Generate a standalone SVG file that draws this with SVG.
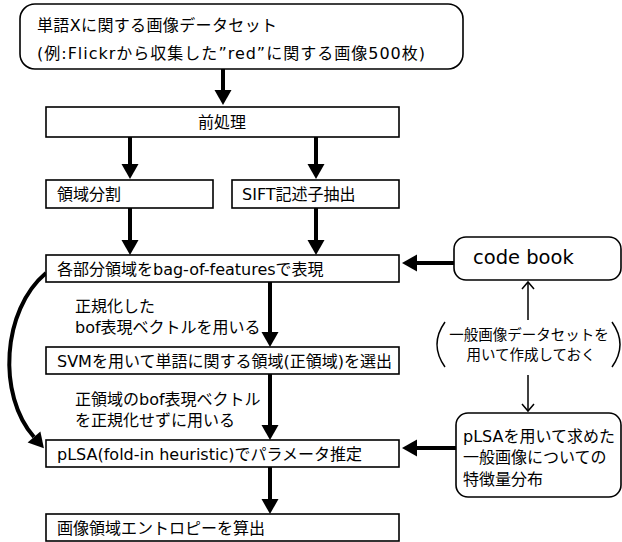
<svg xmlns="http://www.w3.org/2000/svg" width="622" height="542" viewBox="0 0 622 542">
<defs>
<style>
text{font-family:"DejaVu Sans","Noto Sans CJK JP",sans-serif;font-size:16px;fill:#000}
.box{fill:#fff;stroke:#000;stroke-width:1.6}
.big{font-size:19.5px}
.small{font-size:14.5px}
.arr{stroke:#000;stroke-width:4;fill:none}
.thin{stroke:#000;stroke-width:1.5;fill:none}
</style>
<marker id="head" markerUnits="userSpaceOnUse" markerWidth="16" markerHeight="18" refX="0" refY="8.5" orient="auto" overflow="visible">
<path d="M0,0 L15,8.5 L0,17 z" fill="#000"/>
</marker>
<marker id="open" markerUnits="userSpaceOnUse" markerWidth="10" markerHeight="12" refX="7" refY="6" orient="auto" overflow="visible">
<path d="M0,0 L7,6 L0,12" fill="none" stroke="#000" stroke-width="1.5"/>
</marker>
</defs>
<rect width="622" height="542" fill="#fff"/>
<g id="connectors">
<line class="arr" x1="223" y1="69" x2="223" y2="90" marker-end="url(#head)"/>
<line class="arr" x1="130" y1="137" x2="130" y2="164" marker-end="url(#head)"/>
<line class="arr" x1="316" y1="137" x2="316" y2="164" marker-end="url(#head)"/>
<line class="arr" x1="130" y1="208" x2="130" y2="240" marker-end="url(#head)"/>
<line class="arr" x1="316" y1="208" x2="316" y2="240" marker-end="url(#head)"/>
<line class="arr" x1="270" y1="282" x2="270" y2="332" marker-end="url(#head)"/>
<line class="arr" x1="270" y1="374" x2="270" y2="425" marker-end="url(#head)"/>
<line class="arr" x1="270" y1="467" x2="270" y2="499" marker-end="url(#head)"/>
<path class="arr" d="M46,273 C2,310 -3,395 34,437" marker-end="url(#head)"/>
<line class="arr" x1="454" y1="263" x2="417" y2="263" marker-end="url(#head)"/>
<line class="arr" x1="456" y1="448" x2="417" y2="448" marker-end="url(#head)"/>
<line class="thin" x1="528" y1="320" x2="528" y2="282" marker-end="url(#open)"/>
<line class="thin" x1="528" y1="375" x2="528" y2="411" marker-end="url(#open)"/>
</g>
<g id="n-dataset">
<rect class="box" x="20" y="4" width="443" height="65" rx="15"/>
<text x="37" y="31" textLength="240" lengthAdjust="spacing">単語Xに関する画像データセット</text>
<text x="37" y="59" textLength="388" lengthAdjust="spacing">(例:Flickrから収集した”red”に関する画像500枚)</text>
</g>
<g id="n-pre">
<rect class="box" x="46" y="107" width="353" height="30"/>
<text x="222" y="128" text-anchor="middle">前処理</text>
</g>
<g id="n-seg">
<rect class="box" x="46" y="180" width="167" height="28"/>
<text x="57" y="200">領域分割</text>
</g>
<g id="n-sift">
<rect class="box" x="232" y="180" width="167" height="28"/>
<text x="242" y="200">SIFT記述子抽出</text>
</g>
<g id="n-bof">
<rect class="box" x="46" y="255" width="353" height="27"/>
<text x="57" y="275">各部分領域をbag-of-featuresで表現</text>
</g>
<g id="l-norm">
<text x="75" y="312">正規化した</text>
<text x="75" y="333">bof表現ベクトルを用いる</text>
</g>
<g id="n-svm">
<rect class="box" x="46" y="347" width="353" height="27"/>
<text x="57" y="367">SVMを用いて単語に関する領域(正領域)を選出</text>
</g>
<g id="l-raw">
<text x="75" y="405">正領域のbof表現ベクトル</text>
<text x="75" y="426">を正規化せずに用いる</text>
</g>
<g id="n-plsa">
<rect class="box" x="46" y="440" width="353" height="27"/>
<text x="57" y="460">pLSA(fold-in heuristic)でパラメータ推定</text>
</g>
<g id="n-entropy">
<rect class="box" x="46" y="514" width="353" height="27"/>
<text x="57" y="534">画像領域エントロピーを算出</text>
</g>
<g id="n-codebook">
<rect class="box" x="454" y="237" width="167" height="43" rx="12"/>
<text class="big" x="473" y="264">code book</text>
</g>
<g id="l-general">
<path class="thin" d="M445,322 Q429,344.5 445,367"/>
<path class="thin" d="M612,322 Q628,344.5 612,367"/>
<text class="small" x="529" y="340" text-anchor="middle">一般画像データセットを</text>
<text class="small" x="531" y="360" text-anchor="middle">用いて作成しておく</text>
</g>
<g id="n-dist">
<rect class="box" x="456" y="413" width="165" height="84" rx="12"/>
<text x="463" y="442">pLSAを用いて求めた</text>
<text x="463" y="463">一般画像についての</text>
<text x="463" y="485">特徴量分布</text>
</g>
</svg>
